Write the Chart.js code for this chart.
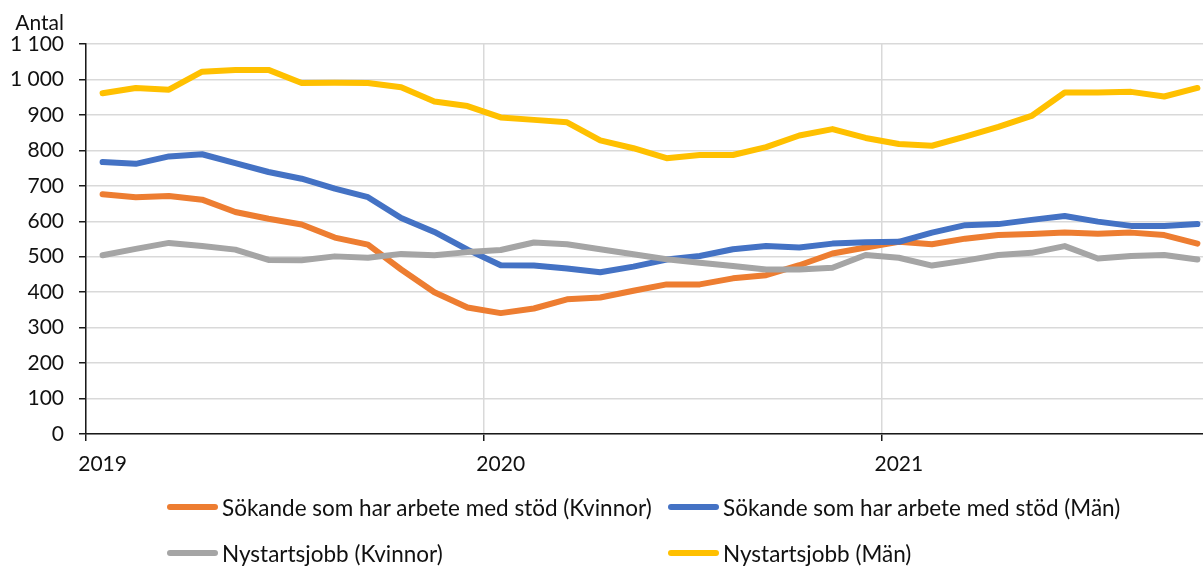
<!DOCTYPE html>
<html>
<head>
<meta charset="utf-8">
<script src="https://cdn.jsdelivr.net/npm/chart.js@4/dist/chart.umd.min.js"></script>
<style>
  body { margin: 0; overflow: hidden; background: #fff; font-family: Lato, sans-serif; }
  #wrap { position: relative; width: 1216px; height: 566px; }
  #legend {
    position: absolute; left: 167px; top: 494px;
    display: grid; grid-template-columns: 501px 480px; row-gap: 20px;
    font-size: 22.5px; color: #111;
  }
  .item { display: flex; align-items: center; height: 26px; white-space: nowrap; }
  .swatch { width: 51px; height: 6px; border-radius: 3px; margin-right: 4px; }
</style>
</head>
<body>
<div id="wrap">
  <canvas id="myChart"></canvas>
  <div id="legend"></div>
</div>
<script>
// DATA
const months = [
  "2019-01", "2019-02", "2019-03", "2019-04", "2019-05", "2019-06", "2019-07", "2019-08", "2019-09", "2019-10", "2019-11", "2019-12",
  "2020-01", "2020-02", "2020-03", "2020-04", "2020-05", "2020-06", "2020-07", "2020-08", "2020-09", "2020-10", "2020-11", "2020-12",
  "2021-01", "2021-02", "2021-03", "2021-04", "2021-05", "2021-06", "2021-07", "2021-08", "2021-09", "2021-10"
];
const stodKvinnor = [676, 668, 671, 661, 626, 607, 591, 554, 534, 464, 400, 357, 341, 354, 380, 385, 404, 422, 422, 439, 448, 476, 509, 526, 542, 535, 551, 561, 564, 568, 565, 568, 561, 537];
const stodMan = [767, 762, 783, 789, 764, 739, 720, 692, 668, 609, 570, 520, 476, 475, 467, 456, 472, 492, 502, 521, 530, 526, 537, 541, 542, 568, 589, 592, 604, 615, 599, 587, 587, 592];
const nystartKvinnor = [504, 522, 539, 530, 520, 491, 490, 501, 497, 508, 504, 513, 519, 540, 535, 521, 507, 493, 483, 474, 464, 464, 469, 505, 497, 475, 489, 505, 511, 530, 495, 502, 505, 492];
const nystartMan = [961, 976, 971, 1022, 1027, 1027, 990, 991, 990, 978, 938, 925, 893, 886, 879, 828, 806, 778, 787, 787, 809, 842, 860, 835, 818, 813, 839, 866, 897, 963, 963, 965, 952, 976];

const seriesNames = [
  "Sökande som har arbete med stöd (Kvinnor)",
  "Sökande som har arbete med stöd (Män)",
  "Nystartsjobb (Kvinnor)",
  "Nystartsjobb (Män)"
];
const seriesColors = ["#ED7D31", "#4472C4", "#A5A5A5", "#FFC000"];
const yTicks = { min: 0, max: 1100, step: 100 };
const yTitle = "Antal";

const FONT = { family: "Lato", size: 21 };
const AXIS = "#1a1a1a";
const GRID = "#d9d9d9";

function fmt(v) {
  return String(v).replace(/\B(?=(\d{3})+(?!\d))/g, "\u00a0");
}

function makeSet(i, data) {
  return {
    label: seriesNames[i],
    data: data,
    borderColor: seriesColors[i],
    backgroundColor: seriesColors[i],
    borderWidth: 6,
    pointRadius: 0,
    tension: 0,
    borderCapStyle: "round",
    borderJoinStyle: "round",
    order: 3 - i
  };
}

// "Antal" above the y axis labels
const yTitlePlugin = {
  id: "yTitle",
  afterDraw(chart) {
    const y = chart.scales.y;
    const ctx = chart.ctx;
    ctx.save();
    ctx.font = FONT.size + "px " + FONT.family;
    ctx.fillStyle = "#111";
    ctx.textAlign = "right";
    ctx.textBaseline = "alphabetic";
    ctx.fillText(yTitle, y.right - 22, chart.chartArea.top - 14);
    ctx.restore();
  }
};

const chart = new Chart(document.getElementById("myChart"), {
  type: "line",
  data: {
    labels: months,
    datasets: [
      makeSet(0, stodKvinnor),
      makeSet(1, stodMan),
      makeSet(2, nystartKvinnor),
      makeSet(3, nystartMan)
    ]
  },
  options: {
    responsive: true,
    maintainAspectRatio: false,
    animation: false,
    layout: { padding: { top: 44, right: 2, bottom: 82, left: 0 } },
    plugins: {
      legend: { display: false },
      tooltip: { enabled: false }
    },
    scales: {
      x: {
        type: "category",
        offset: true,
        afterFit: s => { s.height = 50; },
        grid: {
          offset: true,
          drawOnChartArea: true,
          color: c => (c.index % 12 === 0 ? GRID : "transparent"),
          tickColor: c => (c.index % 12 === 0 ? AXIS : "transparent"),
          tickLength: 7,
          lineWidth: 1.5
        },
        border: { color: AXIS, width: 1.5 },
        ticks: {
          autoSkip: false,
          maxRotation: 0,
          padding: 11,
          color: "#111",
          font: FONT,
          callback: function (v, i) {
            const lab = this.getLabelForValue(v);
            return lab.endsWith("-01") ? lab.slice(0, 4) : "";
          }
        }
      },
      y: {
        min: yTicks.min,
        max: yTicks.max,
        afterFit: s => { s.width = 86; },
        grid: { color: GRID, tickColor: AXIS, tickLength: 7, lineWidth: 1.5 },
        border: { color: AXIS, width: 1.5 },
        ticks: {
          stepSize: yTicks.step,
          padding: 15,
          color: "#111",
          font: FONT,
          callback: v => fmt(v)
        }
      }
    }
  },
  plugins: [yTitlePlugin]
});

// LEGEND
const legend = document.getElementById("legend");
chart.data.datasets.forEach(ds => {
  const item = document.createElement("div");
  item.className = "item";
  item.innerHTML = `<span class="swatch" style="background:${ds.borderColor}"></span><span>${ds.label}</span>`;
  legend.appendChild(item);
});
</script>
</body>
</html>
